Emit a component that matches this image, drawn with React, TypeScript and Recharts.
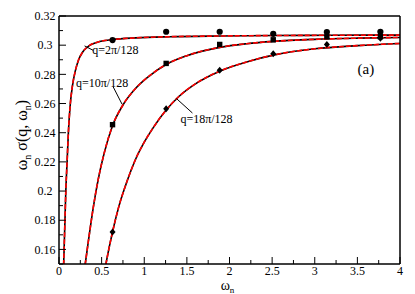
import React from "react";
import {
  ComposedChart,
  Line,
  Scatter,
  XAxis,
  YAxis,
  ReferenceLine,
  ReferenceDot,
  Label,
} from "recharts";

// tick positions
const xMajor = [0, 0.5, 1, 1.5, 2, 2.5, 3, 3.5, 4];
const xMinor = [0.25, 0.75, 1.25, 1.75, 2.25, 2.75, 3.25, 3.75];
const yMajor = [0.16, 0.18, 0.2, 0.22, 0.24, 0.26, 0.28, 0.3, 0.32];
const yMinor = [0.15, 0.17, 0.19, 0.21, 0.23, 0.25, 0.27, 0.29, 0.31];

// fitted curves (omega_n, omega_n*sigma)
const q2Omega = [0.05, 0.055, 0.06, 0.07, 0.08, 0.095, 0.11, 0.13, 0.16, 0.19, 0.23, 0.28, 0.35, 0.45, 0.628, 0.9, 1.3, 1.9, 2.5, 3.2, 4];
const q2Sigma = [0.13, 0.15, 0.16, 0.18, 0.2, 0.22, 0.24, 0.258, 0.273, 0.282, 0.29, 0.2955, 0.2995, 0.302, 0.3038, 0.305, 0.3058, 0.3063, 0.3066, 0.3068, 0.3069];

const q10Omega = [0.28, 0.31, 0.35, 0.4, 0.46, 0.53, 0.628, 0.75, 0.9, 1.05, 1.257, 1.5, 1.885, 2.2, 2.513, 3, 3.5, 4];
const q10Sigma = [0.14, 0.151, 0.168, 0.188, 0.208, 0.226, 0.2448, 0.259, 0.2705, 0.2785, 0.2868, 0.2928, 0.2985, 0.301, 0.3026, 0.304, 0.3048, 0.3053];

const q18Omega = [0.52, 0.56, 0.628, 0.7, 0.8, 0.9, 1, 1.1, 1.257, 1.4, 1.6, 1.885, 2.2, 2.513, 3, 3.5, 4];
const q18Sigma = [0.14, 0.153, 0.172, 0.189, 0.207, 0.222, 0.2335, 0.243, 0.2555, 0.2645, 0.2735, 0.2822, 0.2885, 0.2932, 0.2975, 0.2997, 0.3012];

// simulation points at Matsubara frequencies
const matsubara = [0.628, 1.257, 1.885, 2.513, 3.142, 3.77];
const q2Points = [0.3035, 0.3092, 0.3092, 0.3078, 0.309, 0.3092];
const q10Points = [0.2455, 0.2875, 0.3005, 0.3037, 0.3057, 0.3058];
const q18Points = [0.172, 0.2565, 0.2828, 0.2942, 0.3005, 0.3048];

const zip = (w: number[], s: number[]) => w.map((v, i) => ({ w: v, s: s[i] }));

const curves = [
  { key: "q2", data: zip(q2Omega, q2Sigma) },
  { key: "q10", data: zip(q10Omega, q10Sigma) },
  { key: "q18", data: zip(q18Omega, q18Sigma) },
];

const circle = (p: any) => <circle cx={p.cx} cy={p.cy} r={3.1} fill="#000" />;
const square = (p: any) => <rect x={p.cx - 2.7} y={p.cy - 2.7} width={5.4} height={5.4} fill="#000" />;
const diamond = (p: any) => (
  <polygon
    points={`${p.cx},${p.cy - 3.5} ${p.cx + 3},${p.cy} ${p.cx},${p.cy + 3.5} ${p.cx - 3},${p.cy}`}
    fill="#000"
  />
);

const markers = [
  { key: "m2", data: zip(matsubara, q2Points), shape: circle },
  { key: "m10", data: zip(matsubara, q10Points), shape: square },
  { key: "m18", data: zip(matsubara, q18Points), shape: diamond },
];

// annotation text and leader lines
const notes = [
  { text: "q=2\u03c0/128", w: 0.39, s: 0.2967, lead: [[0.3, 0.2995], [0.4, 0.2965]] },
  { text: "q=10\u03c0/128", w: 0.2, s: 0.274, lead: [[0.635, 0.2715], [0.74, 0.2595]] },
  { text: "q=18\u03c0/128", w: 1.424, s: 0.2494, lead: [[1.376, 0.2635], [1.565, 0.2535]] },
];

const FONT = "'Liberation Serif', 'Times New Roman', Times, 'DejaVu Serif', serif";
const frame = { stroke: "#000", strokeWidth: 1.5 };
const allX = [...xMajor, ...xMinor].sort((a, b) => a - b);
const allY = [...yMajor, ...yMinor].sort((a, b) => a - b);
const isMajor = (list: number[], v: number) => list.some((m) => Math.abs(m - v) < 1e-6);

// tick renderers draw their own inward tick marks (major long, minor short)
const BottomTick = (p: any) => {
  const major = isMajor(xMajor, p.payload.value);
  return (
    <g>
      <line x1={p.x} x2={p.x} y1={p.y} y2={p.y - (major ? 7 : 4)} stroke="#000" />
      {major && (
        <text x={p.x} y={p.y + 2} dy="0.71em" textAnchor="middle" fontSize={12} fontFamily={FONT} fill="#000">
          {p.payload.value}
        </text>
      )}
    </g>
  );
};
const TopTick = (p: any) => {
  const major = isMajor(xMajor, p.payload.value);
  return <line x1={p.x} x2={p.x} y1={p.y} y2={p.y + (major ? 7 : 4)} stroke="#000" />;
};
const LeftTick = (p: any) => {
  const major = isMajor(yMajor, p.payload.value);
  return (
    <g>
      <line x1={p.x} x2={p.x + (major ? 7 : 4)} y1={p.y} y2={p.y} stroke="#000" />
      {major && (
        <text x={p.x - 14} y={p.y} dy="0.35em" textAnchor="middle" fontSize={12} fontFamily={FONT} fill="#000">
          {p.payload.value}
        </text>
      )}
    </g>
  );
};
const RightTick = (p: any) => {
  const major = isMajor(yMajor, p.payload.value);
  return <line x1={p.x} x2={p.x - (major ? 7 : 4)} y1={p.y} y2={p.y} stroke="#000" />;
};

export default function App() {
  return (
    <div style={{ position: "absolute", left: 0, top: 0, fontFamily: FONT }}>
      <ComposedChart width={415} height={294} margin={{ top: 15, right: 14, bottom: 29, left: 58 }} style={{ fontFamily: FONT }}>
        <XAxis
          xAxisId="b"
          dataKey="w"
          type="number"
          domain={[0, 4]}
          ticks={allX}
          allowDataOverflow
          height={1}
          tickSize={0}
          tickMargin={0}
          axisLine={frame}
          tickLine={false}
          tick={BottomTick}
          interval={0}
        >
          <Label
            content={(p: any) => (
              <text x={p.viewBox.x + p.viewBox.width / 2 - 2} y={290} textAnchor="middle" fontFamily={FONT} fill="#000">
                <tspan fontSize={14}>ω</tspan>
                <tspan fontSize={9} dy={3}>n</tspan>
              </text>
            )}
          />
        </XAxis>
        <XAxis xAxisId="t" orientation="top" type="number" domain={[0, 4]} ticks={allX} height={1} tickSize={0} tickMargin={0} axisLine={frame} tickLine={false} tick={TopTick} interval={0} />
        <YAxis
          yAxisId="l"
          dataKey="s"
          type="number"
          domain={[0.15, 0.32]}
          ticks={allY}
          allowDataOverflow
          width={1}
          tickSize={0}
          tickMargin={0}
          axisLine={frame}
          tickLine={false}
          tick={LeftTick}
          interval={0}
        >
          <Label
            content={() => (
              <text x={27} y={135} transform="rotate(-90, 27, 135)" textAnchor="middle" fontFamily={FONT} fontSize={16} fill="#000">
                <tspan>ω</tspan>
                <tspan fontSize={10} dy={4}>n</tspan>
                <tspan dy={-4}> σ(q, ω</tspan>
                <tspan fontSize={10} dy={4}>n</tspan>
                <tspan dy={-4}>)</tspan>
              </text>
            )}
          />
        </YAxis>
        <YAxis yAxisId="r" orientation="right" type="number" domain={[0.15, 0.32]} ticks={allY} width={1} tickSize={0} tickMargin={0} axisLine={frame} tickLine={false} tick={RightTick} interval={0} />

        {curves.map((c) => (
          <Line
            key={c.key + "k"}
            xAxisId="b"
            yAxisId="l"
            data={c.data}
            dataKey="s"
            type="monotone"
            stroke="#000"
            strokeWidth={1.6}
            dot={false}
            activeDot={false}
            isAnimationActive={false}
          />
        ))}
        {curves.map((c) => (
          <Line
            key={c.key + "r"}
            xAxisId="b"
            yAxisId="l"
            data={c.data}
            dataKey="s"
            type="monotone"
            stroke="#ff0000"
            strokeWidth={1.6}
            strokeDasharray="5 2"
            dot={false}
            activeDot={false}
            isAnimationActive={false}
          />
        ))}
        {markers.map((m) => (
          <Scatter key={m.key} xAxisId="b" yAxisId="l" data={m.data} dataKey="s" shape={m.shape} isAnimationActive={false} />
        ))}

        {notes.map((n) => (
          <ReferenceLine
            key={n.text + "l"}
            xAxisId="b"
            yAxisId="l"
            segment={[
              { x: n.lead[0][0], y: n.lead[0][1] },
              { x: n.lead[1][0], y: n.lead[1][1] },
            ]}
            stroke="#000"
            strokeWidth={1}
          />
        ))}
        {notes.map((n) => (
          <ReferenceDot
            key={n.text}
            xAxisId="b"
            yAxisId="l"
            x={n.w}
            y={n.s}
            r={0}
            shape={(p: any) => (
              <text x={p.cx} y={p.cy} dy="0.35em" fontSize={12} fontFamily={FONT} fill="#000">
                {n.text}
              </text>
            )}
          />
        ))}
        <ReferenceDot
          xAxisId="b"
          yAxisId="l"
          x={3.6}
          y={0.2837}
          r={0}
          shape={(p: any) => (
            <text x={p.cx} y={p.cy} dy="0.35em" textAnchor="middle" fontSize={15} fontFamily={FONT} fill="#000">
              (a)
            </text>
          )}
        />
      </ComposedChart>
    </div>
  );
}
